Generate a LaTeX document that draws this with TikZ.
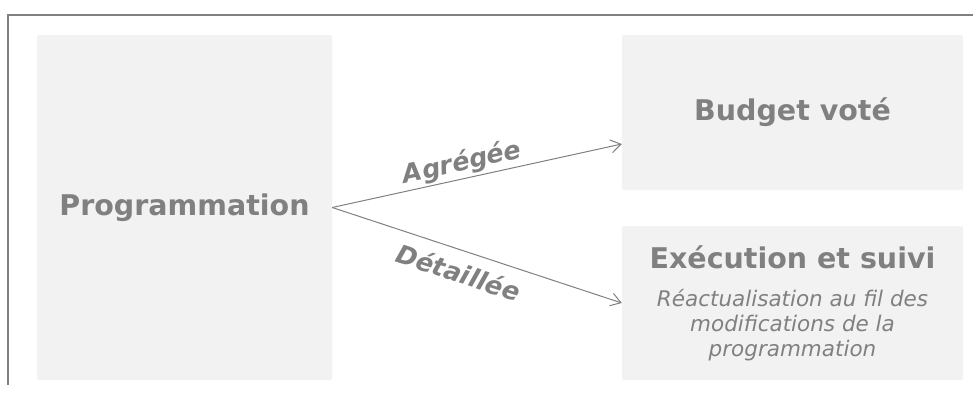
\documentclass[tikz,border=0pt]{standalone}
\usepackage{fontspec}
\setmainfont{DejaVu Sans}
\usetikzlibrary{arrows.meta}
\definecolor{hexcolor0x808080}{rgb}{0.502,0.502,0.502}
\definecolor{hexcolor0xf2f2f2}{rgb}{0.949,0.949,0.949}
\newcommand{\subtext}{\mdseries\itshape\fontsize{21.5}{25}\selectfont}
\tikzstyle{block}=[rectangle,fill=hexcolor0xf2f2f2,rounded corners=2pt,text=hexcolor0x808080,font=\bfseries\fontsize{28.5}{34}\selectfont,align=center,inner sep=0pt]
\tikzstyle{link}=[draw=hexcolor0x808080,line width=1pt,-{Straight Barb[length=10pt,width=13pt]}]
\tikzstyle{tag}=[text=hexcolor0x808080,font=\bfseries\itshape\fontsize{25.5}{30}\selectfont,sloped,inner sep=2pt]
\tikzstyle{frame}=[draw=hexcolor0x808080,line width=2pt]

\begin{document}
\begin{tikzpicture}[x=1pt,y=-1pt]
	\useasboundingbox (0,0) rectangle (973,394);
	\draw [style=frame] (973,15) -- (8,15) -- (8,385);
		\node [style=block, minimum width=295pt, minimum height=345pt] (0) at (184.5, 207.5) {Programmation};
		\node [style=block, minimum width=341pt, minimum height=155pt] (1) at (792.5, 112.5) {Budget voté};
		\node [style=block, minimum width=341pt, minimum height=154pt, font=\bfseries\fontsize{28.5}{25}\selectfont] (2) at (792.5, 303) {Exécution et suivi\\[13pt]{\subtext Réactualisation au fil des}\\{\subtext modifications de la}\\{\subtext programmation}};

		\draw [style=link] (0.east) -- ([yshift=-31.5pt]1.west) node [style=tag, pos=0.46, above] {Agrégée};
		\draw [style=link] (0.east) -- (2.west) node [style=tag, pos=0.46, below=9pt] {Détaillée};
\end{tikzpicture}
\end{document}
